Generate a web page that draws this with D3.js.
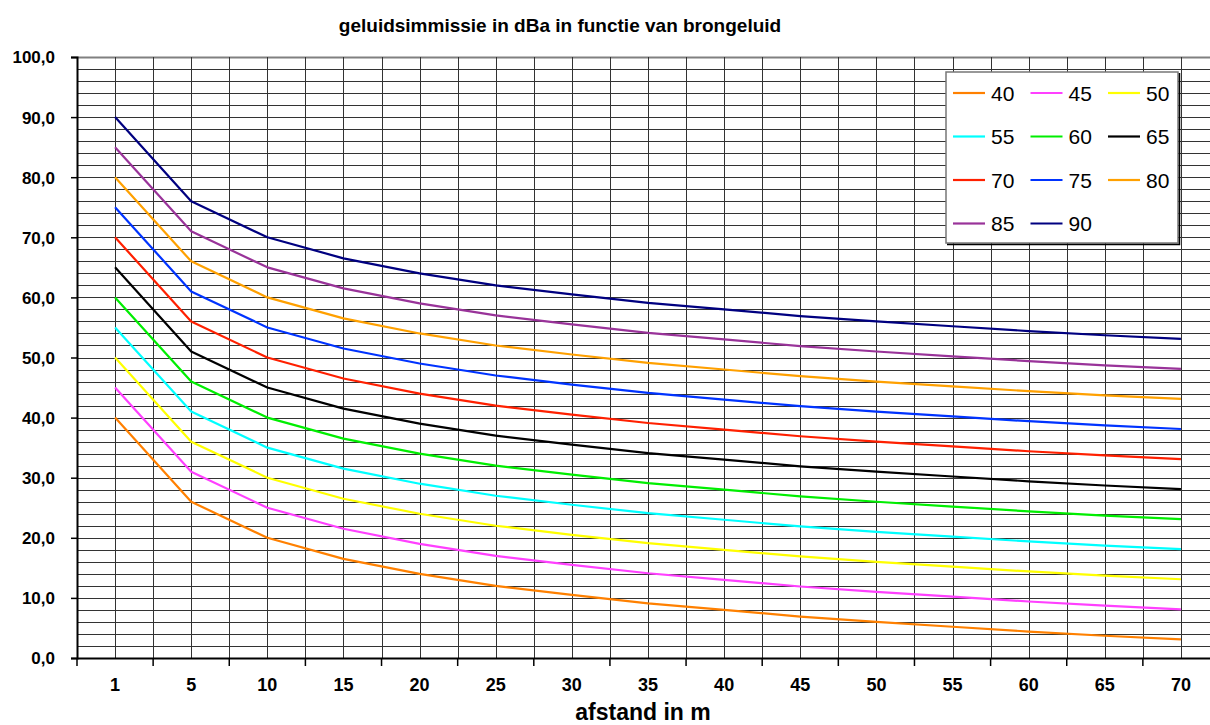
<!DOCTYPE html>
<html>
<head>
<meta charset="utf-8">
<script src="https://cdn.jsdelivr.net/npm/d3@7"></script>
<style>
  body { margin: 0; background: #fff; overflow: hidden; }
  text { font-family: "Liberation Sans", Arial, sans-serif; }
</style>
</head>
<body>
<div id="chart"></div>
<script>
// afstand in m (categories on the x axis)
const distances = [1, 5, 10, 15, 20, 25, 30, 35, 40, 45, 50, 55, 60, 65, 70];

// brongeluid levels (series names)
const sources = [40, 45, 50, 55, 60, 65, 70, 75, 80, 85, 90];

// immissie values per series
const s40 = [40.0, 26.0, 20.0, 16.5, 14.0, 12.0, 10.5, 9.1, 8.0, 6.9, 6.0, 5.2, 4.4, 3.7, 3.1];
const s45 = [45.0, 31.0, 25.0, 21.5, 19.0, 17.0, 15.5, 14.1, 13.0, 11.9, 11.0, 10.2, 9.4, 8.7, 8.1];
const s50 = [50.0, 36.0, 30.0, 26.5, 24.0, 22.0, 20.5, 19.1, 18.0, 16.9, 16.0, 15.2, 14.4, 13.7, 13.1];
const s55 = [55.0, 41.0, 35.0, 31.5, 29.0, 27.0, 25.5, 24.1, 23.0, 21.9, 21.0, 20.2, 19.4, 18.7, 18.1];
const s60 = [60.0, 46.0, 40.0, 36.5, 34.0, 32.0, 30.5, 29.1, 28.0, 26.9, 26.0, 25.2, 24.4, 23.7, 23.1];
const s65 = [65.0, 51.0, 45.0, 41.5, 39.0, 37.0, 35.5, 34.1, 33.0, 31.9, 31.0, 30.2, 29.4, 28.7, 28.1];
const s70 = [70.0, 56.0, 50.0, 46.5, 44.0, 42.0, 40.5, 39.1, 38.0, 36.9, 36.0, 35.2, 34.4, 33.7, 33.1];
const s75 = [75.0, 61.0, 55.0, 51.5, 49.0, 47.0, 45.5, 44.1, 43.0, 41.9, 41.0, 40.2, 39.4, 38.7, 38.1];
const s80 = [80.0, 66.0, 60.0, 56.5, 54.0, 52.0, 50.5, 49.1, 48.0, 46.9, 46.0, 45.2, 44.4, 43.7, 43.1];
const s85 = [85.0, 71.0, 65.0, 61.5, 59.0, 57.0, 55.5, 54.1, 53.0, 51.9, 51.0, 50.2, 49.4, 48.7, 48.1];
const s90 = [90.0, 76.0, 70.0, 66.5, 64.0, 62.0, 60.5, 59.1, 58.0, 56.9, 56.0, 55.2, 54.4, 53.7, 53.1];

const seriesValues = [s40, s45, s50, s55, s60, s65, s70, s75, s80, s85, s90];
const seriesColors = ["#ff8000", "#ff40ff", "#ffff00", "#00ffff", "#00ee00", "#000000",
                      "#ff2000", "#0033ff", "#ffa000", "#993399", "#000080"];

// y axis ticks
const yTicks = [0, 10, 20, 30, 40, 50, 60, 70, 80, 90, 100];

function draw() {
    const svgWidth = 1210, svgHeight = 725;
    // plot area runs past the right edge, like the reference crop
    const margin = { top: 57, left: 77, bottom: 67 };
    const plotWidth = 1142;
    const plotHeight = svgHeight - margin.top - margin.bottom;

    const svg = d3.select("#chart")
        .append("svg")
        .attr("width", svgWidth)
        .attr("height", svgHeight);

    const x = d3.scaleBand()
        .domain(distances)
        .range([0, plotWidth])
        .padding(0);

    const y = d3.scaleLinear()
        .domain([0, 100])
        .range([plotHeight, 0]);

    const g = svg.append("g")
        .attr("transform", `translate(${margin.left}, ${margin.top})`);

    // horizontal grid every 2 dB
    g.append("g")
        .selectAll("line")
        .data(d3.range(2, 101, 2))
        .enter()
        .append("line")
        .attr("x1", 0)
        .attr("x2", plotWidth)
        .attr("y1", d => Math.round(y(d)) + 0.5)
        .attr("y2", d => Math.round(y(d)) + 0.5)
        .attr("stroke", d => d === 100 ? "#808080" : "#333")
        .attr("stroke-width", d => d === 100 ? 2 : 1);

    // vertical grid at band edges and band centres
    const vLines = [];
    distances.forEach(d => {
        vLines.push(x(d) + x.bandwidth() / 2);
        if (d !== distances[0]) vLines.push(x(d));
    });
    g.append("g")
        .selectAll("line")
        .data(vLines)
        .enter()
        .append("line")
        .attr("x1", d => Math.round(d) + 0.5)
        .attr("x2", d => Math.round(d) + 0.5)
        .attr("y1", 0)
        .attr("y2", plotHeight)
        .attr("stroke", "#333")
        .attr("stroke-width", 1);

    // y axis
    const yAxis = g.append("g")
        .call(d3.axisLeft(y)
            .tickValues(yTicks)
            .tickSize(6)
            .tickPadding(16)
            .tickFormat(d => d3.format(".1f")(d).replace(".", ",")));
    yAxis.select(".domain").attr("stroke", "#000").attr("stroke-width", 2);
    yAxis.selectAll(".tick line").attr("stroke", "#000").attr("stroke-width", 1.5);
    yAxis.selectAll("text")
        .attr("font-size", "17px")
        .attr("font-weight", "bold")
        .attr("fill", "#000")
        .attr("dy", "0.35em");

    // x axis, ticks sit between categories
    const xAxis = g.append("g")
        .attr("transform", `translate(0, ${plotHeight})`)
        .call(d3.axisBottom(x).tickSize(0).tickPadding(20));
    xAxis.select(".domain").attr("stroke", "#000").attr("stroke-width", 2);
    xAxis.selectAll("text")
        .attr("font-size", "18px")
        .attr("font-weight", "bold")
        .attr("fill", "#000");
    xAxis.append("g")
        .selectAll("line")
        .data(distances)
        .enter()
        .append("line")
        .attr("x1", d => x(d))
        .attr("x2", d => x(d))
        .attr("y1", 0)
        .attr("y2", 8)
        .attr("stroke", "#000")
        .attr("stroke-width", 1.5);

    // series lines
    const line = d3.line()
        .x((d, i) => x(distances[i]) + x.bandwidth() / 2)
        .y(d => y(d));

    g.append("g")
        .selectAll("path")
        .data(seriesValues)
        .enter()
        .append("path")
        .attr("d", d => line(d))
        .attr("fill", "none")
        .attr("stroke", (d, i) => seriesColors[i])
        .attr("stroke-width", 2.2)
        .attr("stroke-linejoin", "round");

    // title
    svg.append("text")
        .attr("x", 560)
        .attr("y", 32)
        .attr("text-anchor", "middle")
        .attr("font-size", "19px")
        .attr("font-weight", "bold")
        .text("geluidsimmissie in dBa in functie van brongeluid");

    // x axis title
    svg.append("text")
        .attr("x", 643)
        .attr("y", 720)
        .attr("text-anchor", "middle")
        .attr("font-size", "23px")
        .attr("font-weight", "bold")
        .text("afstand in m");

    // legend, 3 columns
    const legend = svg.append("g")
        .attr("transform", "translate(946, 72)");

    legend.append("rect")
        .attr("width", 232)
        .attr("height", 171)
        .attr("fill", "#fff")
        .attr("stroke", "#777")
        .attr("stroke-width", 1.5);
    legend.append("path")
        .attr("d", "M1,172.5H233.5V1")
        .attr("fill", "none")
        .attr("stroke", "#000")
        .attr("stroke-width", 1.5);

    const item = legend.selectAll(".item")
        .data(sources)
        .enter()
        .append("g")
        .attr("class", "item")
        .attr("transform", (d, i) => `translate(${7 + (i % 3) * 77.5}, ${21 + Math.floor(i / 3) * 43.5})`);

    item.append("line")
        .attr("x1", 0)
        .attr("x2", 32)
        .attr("stroke", (d, i) => seriesColors[i])
        .attr("stroke-width", 2.2);

    item.append("text")
        .attr("x", 38)
        .attr("dy", "0.36em")
        .attr("font-size", "21px")
        .text(d => d);
}

document.addEventListener("DOMContentLoaded", draw);
</script>
</body>
</html>
